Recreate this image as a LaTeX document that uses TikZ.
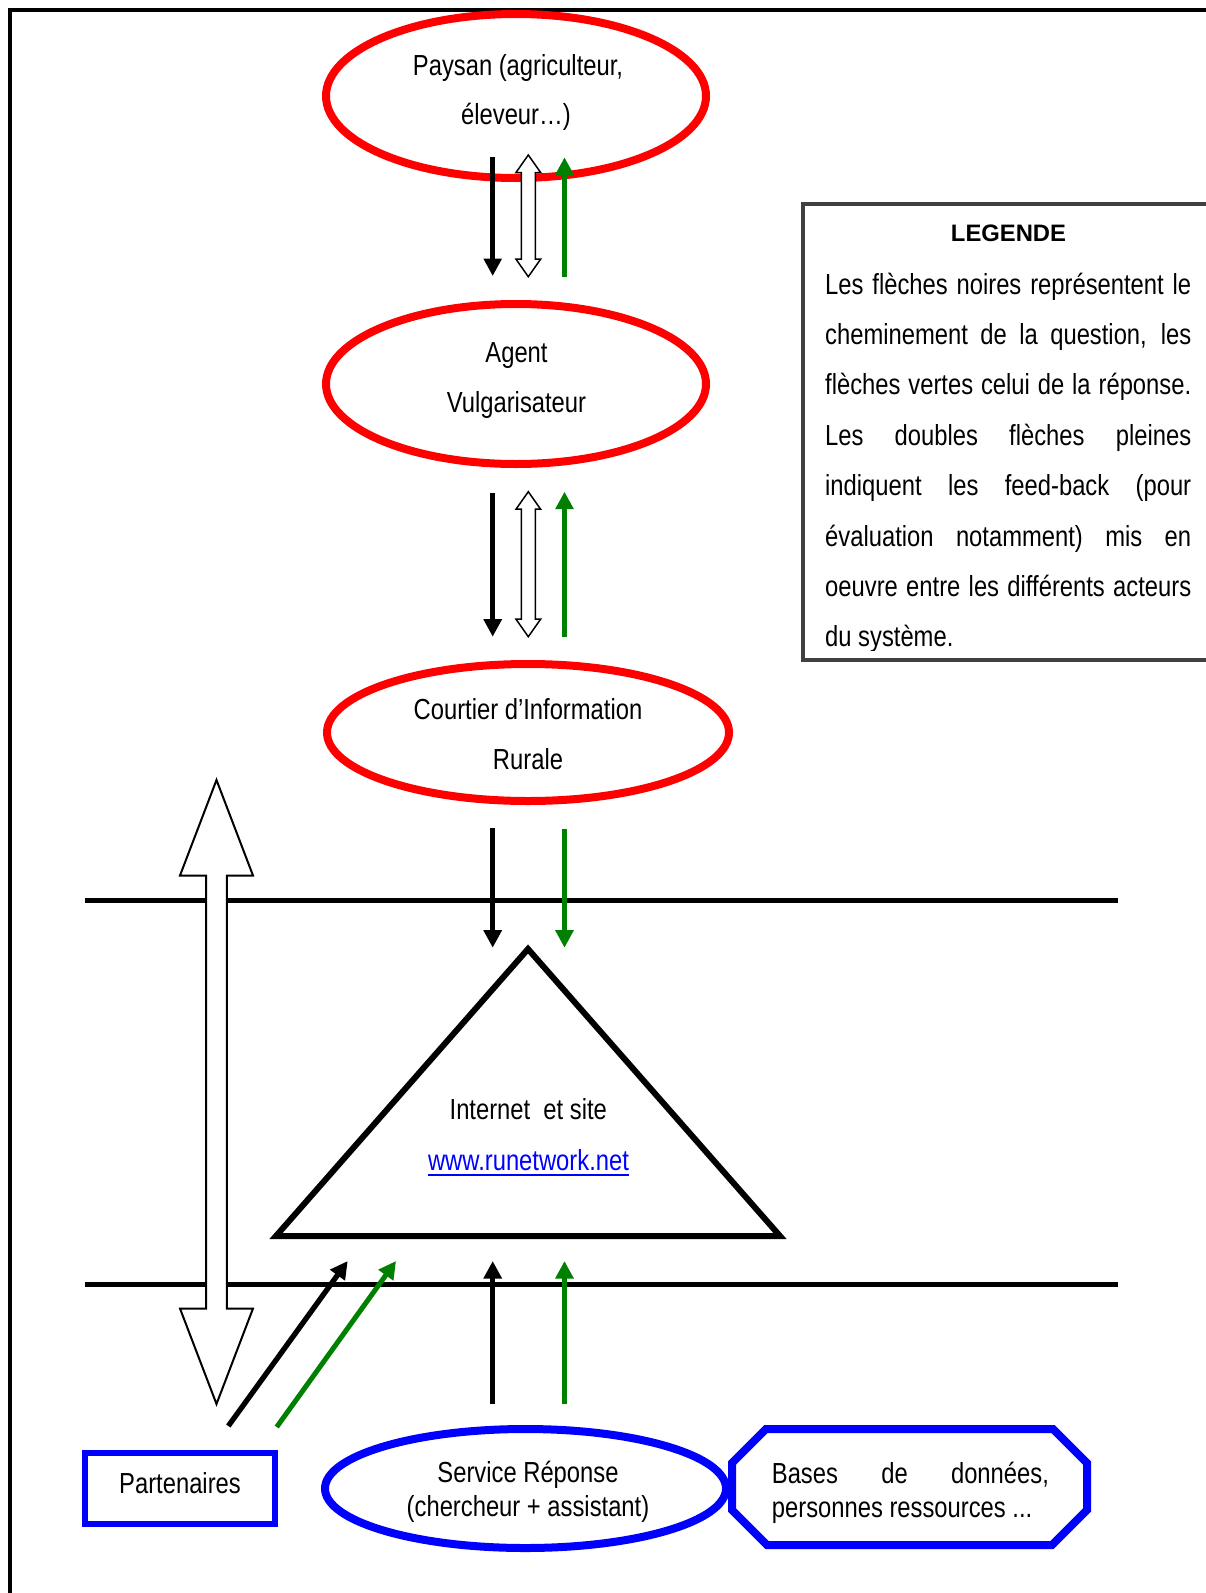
\documentclass[tikz,border=0pt]{standalone}
\usepackage{fontspec}
\setmainfont{Liberation Sans}[FakeStretch=0.82]
\newfontfamily\widefont{Liberation Sans}
\usetikzlibrary{arrows.meta,shapes.geometric,calc}
\definecolor{agreen}{RGB}{0,128,0}
\definecolor{legendgray}{RGB}{64,64,64}
\newcommand\hollowdbl[6]{%
  \draw[fill=white, line width=#6, line join=miter]
    (#1) -- ($(#1)+(#3,#4)$) -- ($(#1)+(#5,#4)$) -- ($(#2)+(#5,-#4)$)
    -- ($(#2)+(#3,-#4)$) -- (#2) -- ($(#2)+(-#3,-#4)$) -- ($(#2)+(-#5,-#4)$)
    -- ($(#1)+(-#5,#4)$) -- ($(#1)+(-#3,#4)$) -- cycle;}
\begin{document}
\begin{tikzpicture}[x=1pt,y=-1pt,
  txt/.style={inner sep=0pt, anchor=base, font=\fontsize{29}{34}\selectfont},
  ltxt/.style={txt, anchor=base west},
  redell/.style={ellipse, draw=red, line width=8pt, inner sep=0pt},
  blueell/.style={ellipse, draw=blue, line width=8pt, inner sep=0pt},
  qarrow/.style={line width=5.3pt, -{Triangle[length=17.5pt,width=17.5pt]}},
  rarrow/.style={agreen, line width=5pt, -{Triangle[length=17.5pt,width=17.5pt]}},
  bline/.style={line width=5pt}
]
\useasboundingbox (0,0) rectangle (1205,1593);
\fill[white] (0,0) rectangle (1205,1593);
% outer frame
\draw[line width=4pt] (10,1700) -- (10,10) -- (1300,10);

% legend
\begin{scope}
\clip (805,206) rectangle (1205,650);
\node[inner sep=0pt, anchor=base, font=\widefont\bfseries\fontsize{23.8}{28}\selectfont] (legtitle) at (1008.5,241) {LEGENDE};
\node[ltxt] (leg1) at (825,294) {\makebox[366pt][s]{Les flèches noires représentent le}};
\node[ltxt] (leg2) at (825,344.4) {\makebox[366pt][s]{cheminement de la question, les}};
\node[ltxt] (leg3) at (825,394.8) {\makebox[366pt][s]{flèches vertes celui de la réponse.}};
\node[ltxt] (leg4) at (825,445.2) {\makebox[366pt][s]{Les doubles flèches pleines}};
\node[ltxt] (leg5) at (825,495.6) {\makebox[366pt][s]{indiquent les feed-back (pour}};
\node[ltxt] (leg6) at (825,546) {\makebox[366pt][s]{évaluation notamment) mis en}};
\node[ltxt] (leg7) at (825,596.4) {\makebox[366pt][s]{oeuvre entre les différents acteurs}};
\node[ltxt] (leg8) at (825,646.8) {du système.};
\end{scope}
\draw[legendgray, line width=4.5pt] (1300,204) -- (803,204) -- (803,660) -- (1300,660);

% horizontal lines
\coordinate (h1l) at (85,900);
\coordinate (h1r) at (1117.6,900);
\coordinate (h2l) at (85,1284.7);
\coordinate (h2r) at (1117.6,1284.7);
\draw[bline] (h1l) -- (h1r);
\draw[bline] (h2l) -- (h2r);

% triangle
\coordinate (tA) at (528,949);
\coordinate (tB) at (780,1236);
\coordinate (tC) at (276,1236);
\draw[line width=6pt, line join=miter] (tA) -- (tB) -- (tC) -- cycle;
\node[txt] (inet) at (528.3,1119) {Internet~~et site};
\node[txt, text=blue] (url) at (528.5,1170) {www.runetwork.net};
\draw[blue, line width=2.5pt] ($(url.base west)+(0,5)$) -- ($(url.base east)+(0,5)$);

% ellipses
\node[redell, minimum width=380pt, minimum height=164pt] (paysan) at (516,96) {};
\node[txt] (paysan1) at (518,75) {Paysan (agriculteur,};
\node[txt] (paysan2) at (516,124) {éleveur…)};

\node[redell, minimum width=380pt, minimum height=160pt] (agent) at (516,384) {};
\node[txt] (agent1) at (516.5,362) {Agent};
\node[txt] (agent2) at (516.5,412) {Vulgarisateur};

\node[redell, minimum width=402pt, minimum height=137pt] (courtier) at (528,732.5) {};
\node[txt] (courtier1) at (528,719) {Courtier d’Information};
\node[txt] (courtier2) at (528,769) {Rurale};

\node[blueell, minimum width=401pt, minimum height=119pt] (service) at (525.5,1488.5) {};
\node[txt] (service1) at (528,1482.5) {Service Réponse};
\node[txt] (service2) at (528,1516) {(chercheur + assistant)};

% Partenaires
\node[draw=blue, line width=6pt, minimum width=190pt, minimum height=71pt, inner sep=0pt] (part) at (180,1488.5) {};
\node[txt] (parttxt) at (180,1493) {Partenaires};

% Bases de donnees octagon
\draw[blue, line width=8pt, line join=miter]
  (766,1429) -- (1053,1429) -- (1087,1463) -- (1087,1510) -- (1052,1545)
  -- (767,1545) -- (732,1510) -- (732,1463) -- cycle;
\node[ltxt] (bases1) at (771.7,1483) {\makebox[277pt][s]{Bases de données,}};
\node[ltxt] (bases2) at (771.7,1517) {personnes ressources ...};

% arrows Paysan <-> Agent
\coordinate (q1s) at (492.7,157.3);
\coordinate (q1e) at (492.7,276);
\coordinate (r1s) at (564.5,276.7);
\coordinate (r1e) at (564.5,157.3);
\coordinate (f1t) at (528.3,155);
\coordinate (f1b) at (528.3,276.7);
\draw[qarrow] (q1s) -- (q1e);
\draw[rarrow] (r1s) -- (r1e);
\hollowdbl{f1t}{f1b}{12.3}{17.5}{7}{1.5pt}

% arrows Agent <-> Courtier
\coordinate (q2s) at (492.7,493.3);
\coordinate (q2e) at (492.7,636.7);
\coordinate (r2s) at (564.5,636.7);
\coordinate (r2e) at (564.5,491.7);
\coordinate (f2t) at (528.3,491.7);
\coordinate (f2b) at (528.3,636.7);
\draw[qarrow] (q2s) -- (q2e);
\draw[rarrow] (r2s) -- (r2e);
\hollowdbl{f2t}{f2b}{12.3}{17.5}{7}{1.5pt}

% arrows Courtier -> triangle
\coordinate (q3s) at (492.7,828);
\coordinate (q3e) at (492.7,947.7);
\coordinate (r3s) at (564.5,829);
\coordinate (r3e) at (564.5,947.7);
\draw[qarrow] (q3s) -- (q3e);
\draw[rarrow] (r3s) -- (r3e);

% arrows Service -> triangle
\coordinate (q4s) at (492.7,1404);
\coordinate (q4e) at (492.7,1261);
\coordinate (r4s) at (564.5,1404);
\coordinate (r4e) at (564.5,1261);
\draw[qarrow] (q4s) -- (q4e);
\draw[rarrow] (r4s) -- (r4e);

% diagonal arrows from Partenaires
\coordinate (q5s) at (228.3,1426);
\coordinate (q5e) at (347.7,1261);
\coordinate (r5s) at (276.7,1427);
\coordinate (r5e) at (396,1261);
\draw[qarrow] (q5s) -- (q5e);
\draw[rarrow] (r5s) -- (r5e);

% big feedback arrow
\coordinate (fbt) at (216.5,780);
\coordinate (fbb) at (216.5,1404);
\hollowdbl{fbt}{fbb}{36.5}{95.5}{10.3}{2pt}
\end{tikzpicture}
\end{document}
